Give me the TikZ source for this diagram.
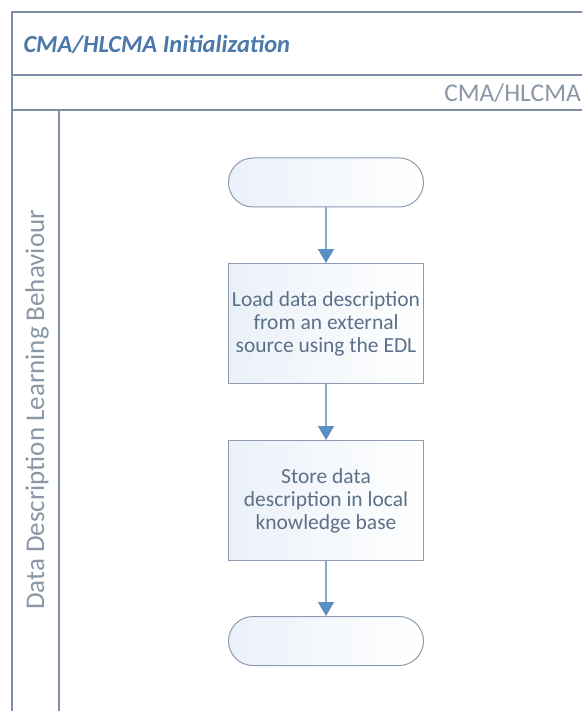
\documentclass[tikz,border=0pt]{standalone}
\usepackage{fontspec}
\setmainfont{Carlito}
\usetikzlibrary{arrows.meta}
\definecolor{frameline}{HTML}{7F90A6}
\definecolor{titleblue}{HTML}{4A78AA}
\definecolor{lanegray}{HTML}{8A97A6}
\definecolor{boxline}{HTML}{8C9BB0}
\definecolor{boxtext}{HTML}{5C7089}
\definecolor{boxtint}{HTML}{EBF1F9}
\definecolor{shaft}{HTML}{86A9CE}
\definecolor{headblue}{HTML}{5C8FC6}
\tikzset{
  frame/.style={draw=frameline, line width=1.6pt},
  terminal/.style={draw=boxline, line width=1pt, rounded corners=24.5pt,
    minimum width=195pt, minimum height=49pt, left color=boxtint, right color=white,
    inner sep=0pt},
  process/.style={draw=boxline, line width=1pt, minimum width=195pt,
    minimum height=120pt, left color=boxtint, right color=white, text=boxtext,
    align=center, font=\fontsize{21.5}{23}\selectfont, inner sep=0pt},
  flow/.style={draw=shaft, line width=1.6pt,
    -{Triangle[width=16pt,length=14pt,color=headblue]}}
}
\begin{document}
\begin{tikzpicture}[x=1pt,y=-1pt]
\useasboundingbox (0,0) rectangle (582,711);
\fill[white] (0,0) rectangle (582,711);
\begin{scope}
\clip (0,0) rectangle (582,711);
% pool frame and lane dividers
\draw[frame] (600,12) -- (12,12) -- (12,720);
\draw[frame] (12,75) -- (600,75);
\draw[frame] (12,110) -- (600,110);
\draw[frame] (59,110) -- (59,720);
% headings
\node[anchor=west, text=titleblue, font=\fontsize{24.5}{28}\selectfont\bfseries\itshape]
  (title) at (20,44) {CMA/HLCMA Initialization};
\node[anchor=east, text=lanegray, font=\fontsize{25.5}{30}\selectfont, inner xsep=1pt]
  (phase) at (582,93) {CMA/HLCMA};
\node[rotate=90, text=lanegray, font=\fontsize{27}{30}\selectfont]
  (lane) at (37,410) {Data Description Learning Behaviour};
% flow
\node[terminal] (start) at (326,182.5) {};
\node[process] (load) at (326,323.5)
  {Load data description\\from an external\\source using the EDL};
\node[process] (store) at (326,500.5)
  {Store data\\description in local\\knowledge base};
\node[terminal] (stop) at (326,641) {};
\draw[flow] (start) -- (load);
\draw[flow] (load) -- (store);
\draw[flow] (store) -- (stop);
\end{scope}
\end{tikzpicture}
\end{document}
